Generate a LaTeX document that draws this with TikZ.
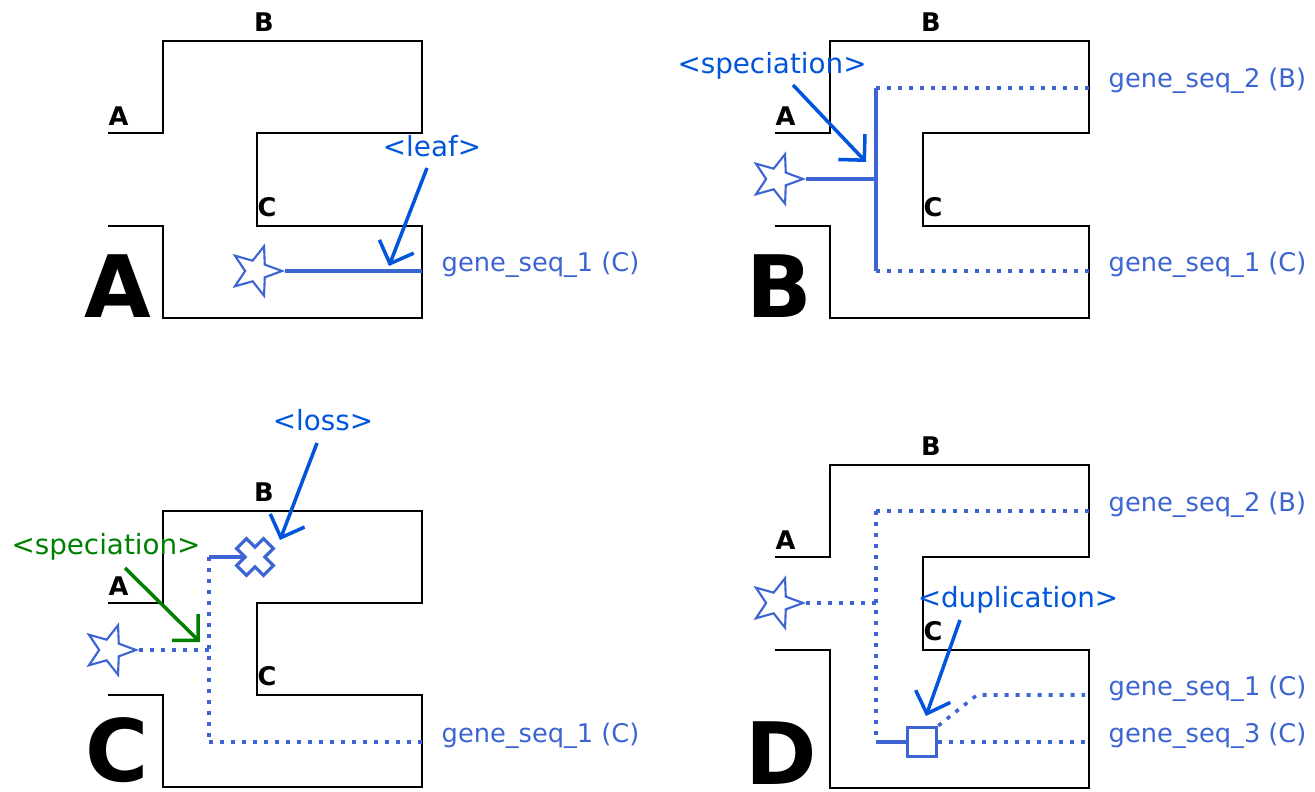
\documentclass[tikz,border=0pt]{standalone}
\usepackage{fontspec}
\setmainfont{DejaVu Sans}
\usetikzlibrary{arrows.meta, shapes.geometric}
\definecolor{genblue}{RGB}{60,100,210}
\definecolor{notblue}{RGB}{0,85,220}
\definecolor{spgreen}{RGB}{0,128,0}
\tikzstyle{tree}   = [draw=black, line width=0.6pt]
\tikzstyle{gene}   = [genblue, line width=1pt]
\tikzstyle{gdot}   = [genblue, line width=1pt, dash pattern=on 0.4mm off 0.7mm]
\tikzstyle{root}   = [star, star points=5, star point ratio=2.4, minimum size=5.2mm,
                      inner sep=0pt, draw=genblue, line width=0.6pt, fill=white,
                      shape border rotate=-90]
\tikzstyle{seqlab} = [text=genblue, anchor=base west, inner sep=0pt,
                      font=\fontsize{7.3}{9}\selectfont]
\tikzstyle{note}   = [anchor=base, text=notblue, inner sep=0pt,
                      font=\fontsize{7.9}{9.5}\selectfont]
\tikzstyle{ptr}    = [-{Straight Barb[angle=90:2.6mm]}, notblue, line width=1pt]
\tikzstyle{spl}    = [inner sep=0pt, font=\fontsize{7.3}{9}\selectfont\bfseries]
\tikzstyle{big}    = [anchor=base, inner sep=0pt, font=\fontsize{24.5}{28}\selectfont\bfseries]

\begin{document}
\begin{tikzpicture}[x=0.01cm, y=-0.01cm]
    \useasboundingbox (0,0) rectangle (1315,792);

    % panel A : a single leaf
    \draw[tree] (108,133) -- (163,133) -- (163,41) -- (422,41) -- (422,133) -- (257,133)
                -- (257,226) -- (422,226) -- (422,318) -- (163,318) -- (163,226) -- (108,226);
    \node[spl, anchor=base]      (aB) at (264,32)  {B};
    \node[spl, anchor=base west] (aA) at (108,126) {A};
    \node[spl, anchor=base west] (aC) at (257,217) {C};
    \node[big] (bigA) at (118,318) {A};

    \node[root] (sa) at (256,271) {};
    \coordinate (ea) at (422,271);
    \draw[gene] (sa) -- (ea);
    \node[seqlab] (ga1) at (441,272) {gene\_seq\_1 (C)};
    \node[note] (leaf) at (432,157) {<leaf>};
    \coordinate (fa) at (427,168);
    \coordinate (ta) at (389,266);
    \draw[ptr] (fa) -- (ta);

    % panel B : speciation at the root
    \draw[tree] (775,133) -- (830,133) -- (830,41) -- (1089,41) -- (1089,133) -- (923,133)
                -- (923,226) -- (1089,226) -- (1089,318) -- (830,318) -- (830,226) -- (775,226);
    \node[spl, anchor=base]      (bB) at (931,32)  {B};
    \node[spl, anchor=base west] (bA) at (775,126) {A};
    \node[spl, anchor=base west] (bC) at (923,217) {C};
    \node[big] (bigB) at (779,318) {B};

    \node[root] (sb) at (777,179) {};
    \coordinate (jb)  at (876,179);
    \coordinate (jbt) at (876,88);
    \coordinate (jbb) at (876,271);
    \coordinate (eb2) at (1089,88);
    \coordinate (eb1) at (1089,271);
    \draw[gene] (sb) -- (jb);
    \draw[gene] (jbt) -- (jbb);
    \draw[gdot] (jbt) -- (eb2);
    \draw[gdot] (jbb) -- (eb1);
    \node[seqlab] (gb2) at (1108,88)  {gene\_seq\_2 (B)};
    \node[seqlab] (gb1) at (1108,272) {gene\_seq\_1 (C)};
    \node[note] (specb) at (772,74) {<speciation>};
    \coordinate (fb) at (793,85);
    \coordinate (tb) at (866,162);
    \draw[ptr] (fb) -- (tb);

    % panel C : speciation, then loss on B
    \draw[tree] (108,603) -- (163,603) -- (163,511) -- (422,511) -- (422,603) -- (257,603)
                -- (257,695) -- (422,695) -- (422,787) -- (163,787) -- (163,695) -- (108,695);
    \node[spl, anchor=base]      (cB) at (264,502) {B};
    \node[spl, anchor=base west] (cA) at (108,596) {A};
    \node[spl, anchor=base west] (cC) at (257,686) {C};
    \node[big] (bigC) at (117,782) {C};

    \node[root] (sc) at (110,650) {};
    \coordinate (jc)  at (209,650);
    \coordinate (jct) at (209,557);
    \coordinate (jcb) at (209,742);
    \coordinate (lossin) at (243,557);
    \coordinate (lossc)  at (255,557);
    \coordinate (ec1) at (422,742);
    \draw[gdot] (sc) -- (jc);
    \draw[gdot] (jct) -- (jcb);
    \draw[gdot] (jcb) -- (ec1);
    \draw[gene] (jct) -- (lossin);
    \draw[genblue, line width=0.9pt, fill=white, shift={(lossc)}, rotate=45]
        (-7,-19) -- (7,-19) -- (7,-7) -- (19,-7) -- (19,7) -- (7,7)
        -- (7,19) -- (-7,19) -- (-7,7) -- (-19,7) -- (-19,-7) -- (-7,-7) -- cycle;
    \node[seqlab] (gc1) at (441,743) {gene\_seq\_1 (C)};
    \node[note] (loss) at (323,431) {<loss>};
    \coordinate (fc1) at (317,443);
    \coordinate (tc1) at (280,540);
    \draw[ptr] (fc1) -- (tc1);
    \node[note, text=spgreen] (specc) at (106,555) {<speciation>};
    \coordinate (fc2) at (125,568);
    \coordinate (tc2) at (200,642);
    \draw[ptr, spgreen] (fc2) -- (tc2);

    % panel D : duplication on C
    \draw[tree] (775,557) -- (830,557) -- (830,465) -- (1089,465) -- (1089,557) -- (923,557)
                -- (923,650) -- (1089,650) -- (1089,788) -- (830,788) -- (830,650) -- (775,650);
    \node[spl, anchor=base]      (dB) at (931,456) {B};
    \node[spl, anchor=base west] (dA) at (775,550) {A};
    \node[spl, anchor=base west] (dC) at (923,641) {C};
    \node[big] (bigD) at (781,785) {D};

    \node[root] (sd) at (777,603) {};
    \coordinate (jd)  at (876,603);
    \coordinate (jdt) at (876,511);
    \coordinate (jdb) at (876,742);
    \coordinate (ed2) at (1089,511);
    \coordinate (bend) at (977,695);
    \coordinate (ed1) at (1085,695);
    \coordinate (ed3) at (1085,742);
    \node[draw=genblue, line width=1pt, fill=white, minimum size=2.9mm, inner sep=0pt]
         (dup) at (922,742) {};
    \draw[gdot] (sd) -- (jd);
    \draw[gdot] (jdt) -- (jdb);
    \draw[gdot] (jdt) -- (ed2);
    \draw[gene] (jdb) -- (dup);
    \draw[gdot] (dup.north east) -- (bend) -- (ed1);
    \draw[gdot] (dup) -- (ed3);
    \node[seqlab] (gd2) at (1108,512) {gene\_seq\_2 (B)};
    \node[seqlab] (gd1) at (1108,696) {gene\_seq\_1 (C)};
    \node[seqlab] (gd3) at (1108,743) {gene\_seq\_3 (C)};
    \node[note] (dupl) at (1018,608) {<duplication>};
    \coordinate (fd) at (960,620);
    \coordinate (td) at (926,716);
    \draw[ptr] (fd) -- (td);
\end{tikzpicture}
\end{document}
